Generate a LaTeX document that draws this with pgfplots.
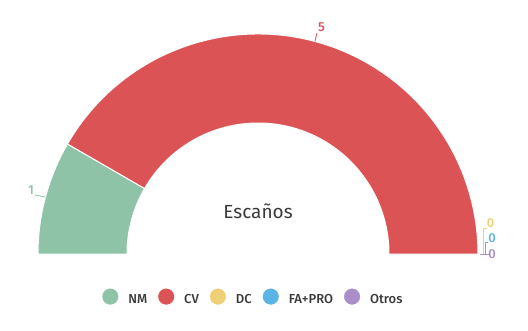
\documentclass[border=0pt]{standalone}
\usepackage{pgfplots}
\pgfplotsset{compat=1.18}
\usepackage{pgfplotstable}
\usepackage{fontspec}
\setmainfont{Fira Sans}[BoldFont={Fira Sans Medium}]

\definecolor{cNM}{HTML}{8FC3A8}
\definecolor{cCV}{HTML}{DC5356}
\definecolor{cDC}{HTML}{F0D077}
\definecolor{cFA}{HTML}{5AB4E5}
\definecolor{cOT}{HTML}{A98EC9}
\definecolor{txt}{HTML}{3A3A3A}

% seats per party
\pgfplotstableread{
party seats
NM 1
CV 5
DC 0
FA+PRO 0
Otros 0
}\seats

\pgfplotstablegetelem{0}{seats}\of\seats\edef\sNM{\pgfplotsretval}
\pgfplotstablegetelem{1}{seats}\of\seats\edef\sCV{\pgfplotsretval}
\pgfplotstablegetelem{2}{seats}\of\seats\edef\sDC{\pgfplotsretval}
\pgfplotstablegetelem{3}{seats}\of\seats\edef\sFA{\pgfplotsretval}
\pgfplotstablegetelem{4}{seats}\of\seats\edef\sOT{\pgfplotsretval}

% angles of the slice boundaries, half circle from 180 down to 0
\pgfmathsetmacro\total{\sNM+\sCV+\sDC+\sFA+\sOT}
\pgfmathsetmacro\aA{180}
\pgfmathsetmacro\aB{\aA-180*\sNM/\total}
\pgfmathsetmacro\aC{\aB-180*\sCV/\total}
\pgfmathsetmacro\aD{\aC-180*\sDC/\total}
\pgfmathsetmacro\aE{\aD-180*\sFA/\total}
\pgfmathsetmacro\aF{\aE-180*\sOT/\total}
\pgfmathsetmacro\mNM{(\aA+\aB)/2}
\pgfmathsetmacro\mCV{(\aB+\aC)/2}

\def\rout{220}
\def\rin{131}

% ring segment: colour, start angle, end angle
\newcommand\slice[3]{%
  \fill[#1, draw=white, line width=1pt]
    (axis cs:{\rout*cos(#2)},{\rout*sin(#2)})
    arc[start angle=#2, end angle=#3, radius=\rout]
    -- (axis cs:{\rin*cos(#3)},{\rin*sin(#3)})
    arc[start angle=#3, end angle=#2, radius=\rin] -- cycle;}

\tikzset{vlabel/.style={font=\fontsize{13}{15}\selectfont\bfseries, inner sep=0pt}}

\begin{document}
\begin{tikzpicture}
\begin{axis}[
  x=1pt, y=1pt,
  xmin=-258, xmax=270, ymin=-76, ymax=254,
  hide axis, clip=false,
  legend columns=-1,
  legend style={at={(axis cs:-5.6,-43)}, anchor=center, draw=none, fill=none,
    inner sep=0pt,
    font=\fontsize{13}{15}\selectfont\bfseries, text=txt,
    nodes={inner sep=0pt, font=\fontsize{13}{15}\selectfont\bfseries, text=txt},
    /tikz/every even column/.append style={column sep=11pt},
    /tikz/every odd column/.append style={column sep=10pt}},
  legend image code/.code={\fill[#1] (7.8pt,0.35em) circle (7.8pt);},
]
\path (axis cs:-258,-76) rectangle (axis cs:270,254);

\slice{cNM}{\aA}{\aB}
\slice{cCV}{\aB}{\aC}
\slice{cDC}{\aC}{\aD}
\slice{cFA}{\aD}{\aE}
\slice{cOT}{\aE}{\aF}

% value labels with connectors
\draw[cNM, line width=0.8pt] (axis cs:{\rout*cos(\mNM)},{\rout*sin(\mNM)}) -- (axis cs:-223,59);
\node[cNM, vlabel] at (axis cs:-227,64) {\sNM};
\draw[cCV, line width=0.8pt] (axis cs:{\rout*cos(\mCV)},{\rout*sin(\mCV)}) -- (axis cs:59,221);
\node[cCV, vlabel] at (axis cs:63.5,227) {\sCV};

\draw[cDC, line width=0.8pt] (axis cs:225,0) -- (axis cs:225,26) -- (axis cs:229,26);
\node[cDC, vlabel] at (axis cs:232.5,30.5) {\sDC};
\draw[cFA, line width=0.8pt] (axis cs:227,0) -- (axis cs:227,12) -- (axis cs:230,12);
\node[cFA, vlabel] at (axis cs:234,16) {\sFA};
\draw[cOT, line width=0.8pt] (axis cs:222,0) -- (axis cs:231,0);
\node[cOT, vlabel] at (axis cs:234,0) {\sOT};

\node[txt, font=\fontsize{19}{21}\selectfont] at (axis cs:0,43) {Escaños};

\addlegendimage{cNM}\addlegendentry{NM}
\addlegendimage{cCV}\addlegendentry{CV}
\addlegendimage{cDC}\addlegendentry{DC}
\addlegendimage{cFA}\addlegendentry{FA+PRO}
\addlegendimage{cOT}\addlegendentry{Otros}
\end{axis}
\end{tikzpicture}
\end{document}
